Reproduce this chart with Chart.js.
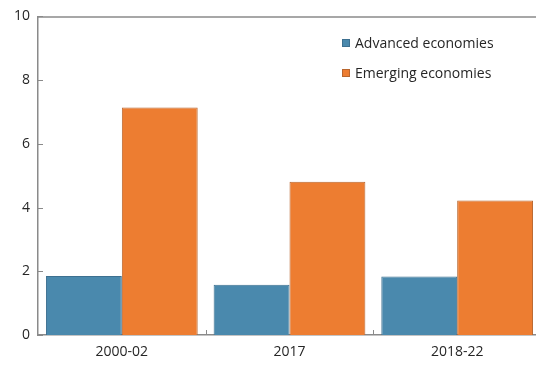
<!DOCTYPE html>
<html>
<head>
<meta charset="utf-8">
<script src="https://cdn.jsdelivr.net/npm/chart.js@4"></script>
<style>
	html, body { margin: 0; padding: 0; background: #fff; overflow: hidden; }
	#wrap { width: 541px; height: 365px; }
</style>
</head>
<body>
<div id="wrap"><canvas id="myChart"></canvas></div>
<script>
// chart data
let categories = ["2000-02", "2017", "2018-22"];
let advanced = [1.85, 1.58, 1.84];
let emerging = [7.14, 4.81, 4.22];
let yTicks = [0, 2, 4, 6, 8, 10];
let seriesNames = ["Advanced economies", "Emerging economies"];

let axisColor = "#8a8a8a";
let textColor = "#262626";
let fontName = "'Open Sans', sans-serif";
let fontSize = 14;

// draws the inward tick marks, the top border and the legend box
let decorations = {
	id: "decorations",
	afterDatasetsDraw: function(chart) {
		let ctx = chart.ctx;
		let area = chart.chartArea;
		let y = chart.scales.y;
		let x = chart.scales.x;

		ctx.save();
		ctx.strokeStyle = axisColor;
		ctx.lineWidth = 1.5;

		// top border
		ctx.beginPath();
		ctx.moveTo(area.left, area.top + 0.5);
		ctx.lineTo(chart.width, area.top + 0.5);
		ctx.stroke();

		// y ticks pointing right
		ctx.lineWidth = 1;
		for(let i=0; i<yTicks.length; i++) {
			let py = Math.round(y.getPixelForValue(yTicks[i])) + 0.5;
			ctx.beginPath();
			ctx.moveTo(area.left, py);
			ctx.lineTo(area.left + 5, py);
			ctx.stroke();
		}

		// x ticks between categories, pointing up
		for(let i=1; i<categories.length; i++) {
			let px = Math.round((x.getPixelForValue(i-1) + x.getPixelForValue(i)) / 2) + 0.5;
			ctx.beginPath();
			ctx.moveTo(px, area.bottom);
			ctx.lineTo(px, area.bottom - 5);
			ctx.stroke();
		}

		// legend
		ctx.font = fontSize + "px " + fontName;
		ctx.textBaseline = "middle";
		let sets = chart.data.datasets;
		for(let i=0; i<sets.length; i++) {
			let ly = 43 + i * 30;
			ctx.fillStyle = sets[i].backgroundColor;
			ctx.fillRect(342, ly - 4, 8, 8);
			ctx.strokeStyle = sets[i].borderColor;
			ctx.strokeRect(342.5, ly - 3.5, 7, 7);
			ctx.fillStyle = textColor;
			ctx.fillText(sets[i].label, 355, ly + 1);
		}
		ctx.restore();
	}
};

let ctx = document.getElementById("myChart").getContext("2d");
let chart = new Chart(ctx, {
	type: "bar",
	data: {
		labels: categories,
		datasets: [{
			label: seriesNames[0],
			data: advanced,
			backgroundColor: "#4a89ad",
			borderColor: "#3d7090",
			borderWidth: 1
		}, {
			label: seriesNames[1],
			data: emerging,
			backgroundColor: "#ed7d31",
			borderColor: "#b8662e",
			borderWidth: 1
		}]
	},
	options: {
		responsive: true,
		maintainAspectRatio: false,
		animation: false,
		layout: { padding: { top: 13, right: 0, left: 0, bottom: 0 } },
		plugins: {
			legend: { display: false },
			tooltip: { enabled: false }
		},
		datasets: {
			bar: { categoryPercentage: 0.905, barPercentage: 1.0 }
		},
		scales: {
			x: {
				grid: { display: false, drawTicks: false },
				border: { display: true, color: axisColor, width: 1.5 },
				ticks: { color: textColor, font: { family: fontName, size: fontSize }, padding: 9 },
				afterFit: function(scale) { scale.height = 30; }
			},
			y: {
				min: 0,
				max: 10,
				afterBuildTicks: function(scale) {
					scale.ticks = yTicks.map(v => ({ value: v }));
				},
				grid: { display: false, drawTicks: false },
				border: { display: true, color: axisColor, width: 1.5 },
				ticks: { color: textColor, font: { family: fontName, size: fontSize }, padding: 8 },
				afterFit: function(scale) { scale.width = 38; }
			}
		}
	},
	plugins: [decorations]
});
</script>
</body>
</html>
